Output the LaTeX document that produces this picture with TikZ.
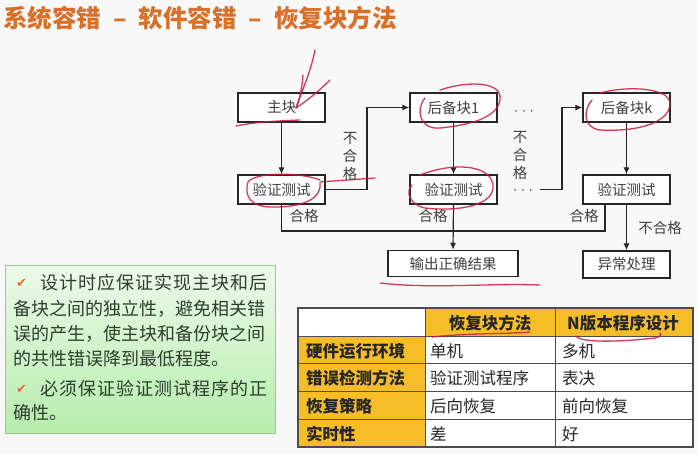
\documentclass[tikz,border=0pt]{standalone}
\usepackage{fontspec}
\setmainfont{Noto Sans CJK SC}
\newfontfamily\symfont{DejaVu Sans}
\usetikzlibrary{arrows.meta,calc}
\definecolor{titleor}{RGB}{218,112,40}
\definecolor{gold}{RGB}{245,190,40}
\definecolor{gbord}{RGB}{150,205,140}
\definecolor{gtop}{RGB}{236,250,233}
\definecolor{gbot}{RGB}{182,236,172}
\definecolor{gtext}{RGB}{45,62,45}
\definecolor{chk}{RGB}{225,110,50}
\definecolor{scrib}{RGB}{205,25,60}
\definecolor{bg}{RGB}{248,248,248}
\begin{document}
\begin{tikzpicture}[x=1pt,y=-1pt,
 box/.style={draw=black!85,line width=1.3pt,fill=white,minimum width=87pt,minimum height=29pt,inner sep=0pt,font=\fontsize{14.5}{16}\selectfont,text=black!75},
 conn/.style={line width=1.2pt,draw=black!85},
 arr/.style={conn,-{Latex[length=7pt,width=6pt]}},
 lbl/.style={font=\fontsize{14.5}{18}\selectfont,text=black!75,inner sep=0pt,align=center},
 dotlbl/.style={font=\symfont\fontsize{12}{14}\selectfont,text=black!75,inner sep=0pt},
 gline/.style={anchor=west,inner sep=0pt,font=\fontsize{18}{20}\selectfont,text=gtext},
 gwide/.style={gline,font=\fontsize{18}{20}\selectfont\addfontfeatures{LetterSpace=5.5}},
 chkmark/.style={anchor=west,inner sep=0pt,font=\symfont\fontsize{13}{14}\selectfont,text=chk},
 cell/.style={anchor=west,inner sep=0pt,font=\fontsize{16.5}{18}\selectfont,text=black!85},
 hcell/.style={inner sep=0pt,font=\bfseries\fontsize{16.5}{18}\selectfont,text=black!85},
 scr/.style={draw=scrib,line width=1.3pt,opacity=0.85,line cap=round}
]
\fill[bg] (0,0) rectangle (697,454);
\useasboundingbox (0,0) rectangle (697,454);

% title
\node[anchor=west,inner sep=0pt,font=\bfseries\fontsize{24.5}{26}\selectfont,text=titleor] (title) at (3,18) {系统容错\hspace{12pt}–\hspace{12pt}软件容错\hspace{12pt}–\hspace{12pt}恢复块方法};

% boxes
\node[box] (main) at (281.5,107.5) {主块};
\node[box] (v1) at (281.5,189.5) {验证测试};
\node[box] (b1) at (453.5,107.5) {后备块1};
\node[box] (v2) at (453.5,189.5) {验证测试};
\node[box] (bk) at (626.5,107.5) {后备块k};
\node[box] (v3) at (626.5,189.5) {验证测试};
\node[box,minimum width=130pt,minimum height=26pt] (out) at (453,263.5) {输出正确结果};
\node[box,minimum height=27pt] (exc) at (626.5,264.5) {异常处理};

% coordinates
\coordinate (c1) at (367,189.5);
\coordinate (c1t) at (367,107.5);
\coordinate (d2) at (540,189.5);
\coordinate (c2) at (562,189.5);
\coordinate (c2t) at (562,107.5);
\coordinate (busL) at (281.5,231);
\coordinate (busR) at (605,231);
\coordinate (v3s) at (605,204);

% connectors
\draw[arr] (main) -- (v1);
\draw[arr] (b1) -- (v2);
\draw[arr] (bk) -- (v3);
\draw[arr] (v1.east) -- (c1) -- (c1t) -- (b1.west);
\draw[arr] (d2) -- (c2) -- (c2t) -- (bk.west);
\draw[conn] (v1.south) -- (busL) -- (busR) -- (v3s);
\draw[arr] (v2.south) -- (out.north);
\draw[arr] (v3.south) -- (exc.north);

% dots
\node[dotlbl] (dots1) at (524,113) {·\hspace{4pt}·\hspace{4pt}·};
\node[dotlbl] (dots2) at (523,192) {·\hspace{4pt}·\hspace{4pt}·};

% labels
\node[lbl] (nf1) at (350,157) {不\\合\\格};
\node[lbl] (nf2) at (520,156) {不\\合\\格};
\node[lbl] (nf3) at (660,228) {不合格};
\node[lbl] (ok1) at (304,216) {合格};
\node[lbl] (ok2) at (433,216) {合格};
\node[lbl] (ok3) at (584,216) {合格};

% green box
\node[draw=gbord,line width=1.2pt,top color=gtop,bottom color=gbot,minimum width=270pt,minimum height=168pt,anchor=north west,inner sep=0pt] (note) at (5,265) {};
\node[chkmark] (ck1) at (16,283) {✔};
\node[gwide] (g1) at (40,283) {设计时应保证实现主块和后};
\node[gline] (g2) at (13,309) {备块之间的独立性，避免相关错};
\node[gline] (g3) at (13,334) {误的产生，使主块和备份块之间};
\node[gline] (g4) at (13,359) {的共性错误降到最低程度。};
\node[chkmark] (ck2) at (16,389) {✔};
\node[gwide] (g5) at (40,389) {必须保证验证测试程序的正};
\node[gline] (g6) at (13,413) {确性。};

% table
\fill[white] (298,308) rectangle (693,447);
\fill[gold] (425,308) rectangle (693,337);
\fill[gold] (298,337) rectangle (425,447);
\foreach \yy in {337,364,392,420} \draw[black!70,line width=1pt] (298,\yy) -- (693,\yy);
\foreach \xx in {425,555} \draw[black!70,line width=1pt] (\xx,308) -- (\xx,447);
\draw[black!70,line width=1.5pt] (298,308) rectangle (693,447);
\node[hcell] (h1) at (490,323) {恢复块方法};
\node[hcell] (h2) at (623,323) {N版本程序设计};
\node[cell,font=\bfseries\fontsize{16.5}{18}\selectfont] (r1) at (306,351) {硬件运行环境};
\node[cell,font=\bfseries\fontsize{16.5}{18}\selectfont] (r2) at (306,378) {错误检测方法};
\node[cell,font=\bfseries\fontsize{16.5}{18}\selectfont] (r3) at (306,406) {恢复策略};
\node[cell,font=\bfseries\fontsize{16.5}{18}\selectfont] (r4) at (306,434) {实时性};
\node[cell] (a1) at (430,351) {单机};
\node[cell] (a2) at (430,378) {验证测试程序};
\node[cell] (a3) at (430,406) {后向恢复};
\node[cell] (a4) at (430,434) {差};
\node[cell] (n1) at (562,351) {多机};
\node[cell] (n2) at (562,378) {表决};
\node[cell] (n3) at (562,406) {前向恢复};
\node[cell] (n4) at (562,434) {好};

% red hand annotations
\draw[scr] (315,50) .. controls (310,75) and (300,95) .. (296,108);
\draw[scr] (303,75) .. controls (302,88) and (300,98) .. (297,106);
\draw[scr] (330,80) .. controls (318,92) and (305,102) .. (296,108);
\draw[scr] (236,126) .. controls (255,122) and (275,121) .. (300,120);
\draw[scr] (320,180) .. controls (300,172) and (255,172) .. (248,182) .. controls (244,196) and (250,208) .. (275,207) .. controls (300,207) and (322,200) .. (320,183);
\draw[scr] (320,182) -- (375,178);
\draw[scr] (440,90) .. controls (470,80) and (503,82) .. (500,100) .. controls (497,118) and (470,125) .. (440,128) .. controls (420,130) and (415,110) .. (425,98);
\draw[scr] (420,175) .. controls (450,163) and (490,163) .. (493,185) .. controls (495,205) and (460,212) .. (425,208) .. controls (410,205) and (405,192) .. (412,185);
\draw[scr] (600,93) .. controls (630,85) and (672,88) .. (670,105) .. controls (668,122) and (640,132) .. (600,130) .. controls (583,128) and (583,110) .. (592,100);
\draw[scr] (380,283) .. controls (430,289) and (490,283) .. (540,285);
\draw[scr] (432,337) .. controls (470,333) and (510,334) .. (530,332);
\draw[scr] (576,336) .. controls (580,343) and (620,342) .. (655,338) .. controls (660,337) and (662,335) .. (660,333);
\end{tikzpicture}
\end{document}
